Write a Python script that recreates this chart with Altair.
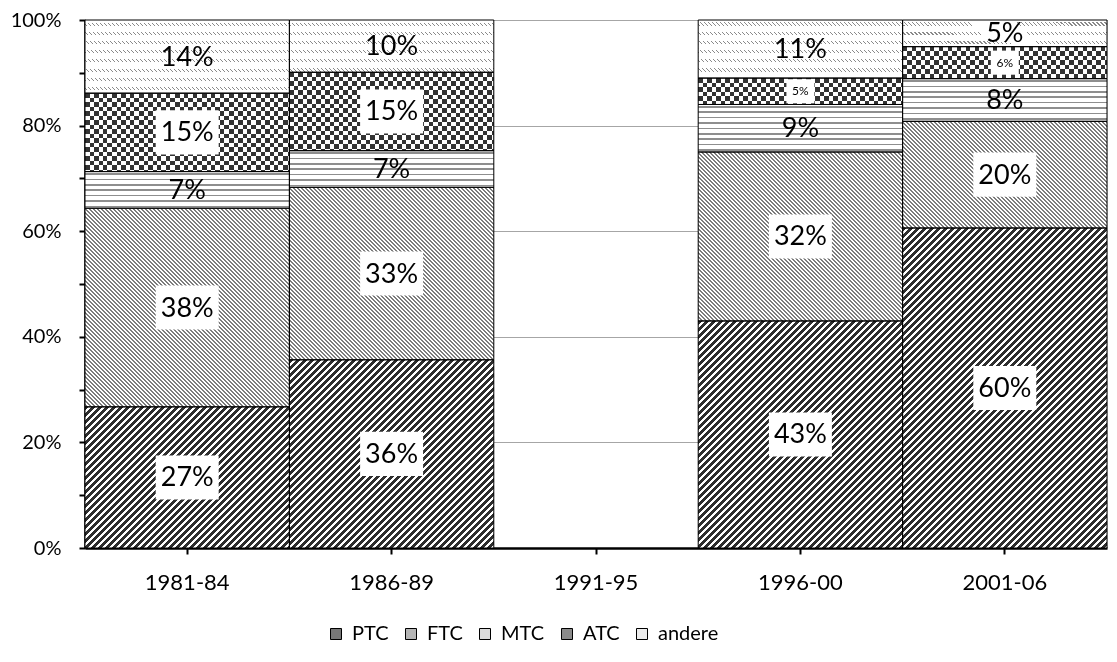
import altair as alt

periods = ["1981-84", "1986-89", "1991-95", "1996-00", "2001-06"]
series = ["PTC", "FTC", "MTC", "ATC", "andere"]
ptc = [27, 36, None, 43, 60]
ftc = [38, 33, None, 32, 20]
mtc = [7, 7, None, 9, 8]
atc = [15, 15, None, 5, 6]
andere = [14, 10, None, 11, 5]
y_ticks = [0, 0.1, 0.2, 0.3, 0.4, 0.5, 0.6, 0.7, 0.8, 0.9, 1.0]
legend_fills = ["#777777", "#b5b5b5", "#dcdcdc", "#8a8a8a", "#ececec"]
boxed = ["PTC", "FTC", "ATC"]

W, H = 1022, 528
FONT = "Lato"
bw = W / len(periods)


def band_stops(length, period, dark, c_dark, c_light="#ffffff", phase=0.0):
    stops = [{"offset": 0, "color": c_light}]
    pos = phase - period
    while pos < length:
        a = max(pos, 0.0) / length
        b = min(pos + dark, length) / length
        if b > a:
            stops += [
                {"offset": round(a, 6), "color": c_light},
                {"offset": round(a, 6), "color": c_dark},
                {"offset": round(b, 6), "color": c_dark},
                {"offset": round(b, 6), "color": c_light},
            ]
        pos += period
    stops.append({"offset": 1, "color": c_light})
    return stops


def horiz(h, period, dark, c_dark, phase=0.0):
    return {"gradient": "linear", "x1": 0, "y1": 0, "x2": 0, "y2": 1,
            "stops": band_stops(h, period, dark, c_dark, phase=phase)}


def vert(w, period, dark, c_dark, phase=0.0):
    return {"gradient": "linear", "x1": 0, "y1": 0, "x2": 1, "y2": 0,
            "stops": band_stops(w, period, dark, c_dark, phase=phase)}


def diag(w, h, period, dark, c_dark, forward=True):
    # period and dark are measured horizontally (along x + y)
    k = (w + h) * w / (w * w + h * h)
    stops = band_stops(w + h, period, dark, c_dark)
    if forward:  # "/" lines
        return {"gradient": "linear", "x1": 0, "y1": 0, "x2": round(k, 6),
                "y2": round(k * h / w, 6), "stops": stops}
    return {"gradient": "linear", "x1": 1, "y1": 0, "x2": round(1 - k, 6),
            "y2": round(k * h / w, 6), "stops": stops}


def pattern(s, w, h):
    if s == "PTC":
        return diag(w, h, 7.0, 4.0, "#2e2e2e", True)
    if s == "FTC":
        return diag(w, h, 4.0, 2.0, "#7c7c7c", False)
    if s == "MTC":
        return horiz(h, 5.4, 1.7, "#8e8e8e", 1.5)
    if s == "ATC":
        return horiz(h, 9.0, 4.5, "#000000")
    return diag(w, h, 4.0, 1.0, "#8a8a8a", False)


def second(s, w, h):
    if s == "ATC":
        return vert(w, 9.0, 4.5, "#000000")
    if s == "andere":
        return horiz(h, 9.2, 3.2, "#000000", 2.5)
    return None


arrays = [ptc, ftc, mtc, atc, andere]
rows = []
for pi, p in enumerate(periods):
    vals = [arr[pi] for arr in arrays]
    if all(v is None for v in vals):
        continue
    tot = sum(vals)
    for si, s in enumerate(series):
        v = vals[si]
        h = H * v / tot
        rows.append({
            "period": p, "series": s, "order": si, "value": v,
            "grad": pattern(s, bw, h),
            "grad2": second(s, bw, h),
        })

x_enc = alt.X(
    "period:N",
    scale=alt.Scale(domain=periods, paddingInner=0, paddingOuter=0),
    axis=alt.Axis(
        title=None, labelAngle=0, labelFont=FONT, labelFontSize=22, labelColor="black",
        labelPadding=18, tickSize=6, tickWidth=2, tickColor="black",
        domainColor="black", domainWidth=2.5, grid=False,
    ),
)
y_scale = alt.Scale(domain=[0, 1], nice=False)
y_enc = alt.Y(
    "y0:Q", scale=y_scale,
    axis=alt.Axis(
        title=None, values=y_ticks,
        labelExpr="round(datum.value * 10) % 2 == 0 ? format(datum.value, '.0%') : ''",
        labelFont=FONT, labelFontSize=20, labelColor="black", labelPadding=18,
        tickSize=6, tickWidth=2, tickColor="black",
        domainColor="black", domainWidth=2.5,
        grid=True, gridColor="#a6a6a6", gridWidth=1,
        gridOpacity={"condition": {"test": "round(datum.value * 10) % 2 == 1", "value": 0}, "value": 1},
    ),
)

base = alt.Chart(alt.Data(values=rows)).transform_stack(
    stack="value", groupby=["period"], sort=[alt.SortField("order", "ascending")],
    as_=["y0", "y1"], offset="normalize",
).transform_calculate(
    mid="(datum.y0 + datum.y1) / 2", label="datum.value + '%'",
    small="datum.series == 'ATC' && datum.value <= 6 ? 1 : 0",
)

bars = base.mark_bar(strokeWidth=0, aria=False).encode(
    x=x_enc, y=y_enc, y2="y1:Q",
    color=alt.Color(
        "series:N", sort=series,
        scale=alt.Scale(domain=series, range=legend_fills),
        legend=alt.Legend(
            title=None, orient="none", direction="horizontal", legendX=241, legendY=604,
            symbolType="square", symbolSize=121, symbolStrokeColor="black", symbolStrokeWidth=1,
            labelFont=FONT, labelFontSize=20, labelColor="black", labelOffset=6,
            columnPadding=12, symbolOpacity=1,
        ),
    ),
)

xs = alt.X("period:N", scale=alt.Scale(domain=periods))
ys = alt.Y("y0:Q", scale=y_scale)
pat = base.mark_bar(strokeWidth=0, aria=False).encode(
    x=xs, y=ys, y2="y1:Q",
    fill=alt.Fill("grad:N", scale=None, legend=None),
)

atc_base = base.transform_filter("datum.series == 'ATC'")
chk = atc_base.mark_bar(strokeWidth=0, blend="difference", aria=False).encode(
    x=xs, y=ys, y2="y1:Q",
    fill=alt.Fill("grad2:N", scale=None, legend=None),
)
chk_light = atc_base.mark_bar(strokeWidth=0, fill="white", opacity=0.2, aria=False).encode(
    x=xs, y=ys, y2="y1:Q",
)
rows_mask = base.transform_filter("datum.series == 'andere'").mark_bar(
    strokeWidth=0, blend="lighten", aria=False,
).encode(
    x=xs, y=ys, y2="y1:Q",
    fill=alt.Fill("grad2:N", scale=None, legend=None),
)

outline = base.mark_bar(fillOpacity=0, stroke="black", strokeWidth=1, aria=False).encode(
    x=xs, y=ys, y2="y1:Q",
)

big_box = base.transform_filter(
    alt.FieldOneOfPredicate(field="series", oneOf=boxed)
).transform_filter("datum.small == 0").mark_point(
    shape="M-1,-0.7H1V0.7H-1Z", filled=True, fill="white", opacity=1, strokeWidth=0, size=3969,
).encode(x=xs, y=alt.Y("mid:Q", scale=y_scale))

small_box = base.transform_filter("datum.small == 1").mark_point(
    shape="M-1,-0.86H1V0.86H-1Z", filled=True, fill="white", opacity=1, strokeWidth=0, size=784,
).encode(x=xs, y=alt.Y("mid:Q", scale=y_scale))

big_text = base.transform_filter("datum.small == 0").mark_text(
    font=FONT, fontSize=27, color="black", baseline="middle", align="center", dy=1,
).encode(x=xs, y=alt.Y("mid:Q", scale=y_scale), text="label:N")

small_text = base.transform_filter("datum.small == 1").mark_text(
    font=FONT, fontSize=12, color="black", baseline="middle", align="center",
).encode(x=xs, y=alt.Y("mid:Q", scale=y_scale), text="label:N")

chart = alt.layer(
    bars, pat, chk, chk_light, rows_mask, outline, big_box, small_box, big_text, small_text
).properties(
    width=W, height=H, padding={"left": 2, "top": 2, "right": 0, "bottom": 0},
).configure_view(stroke=None).configure(font=FONT)

chart.save("out.html", embed_options={"renderer": "svg", "actions": False})
